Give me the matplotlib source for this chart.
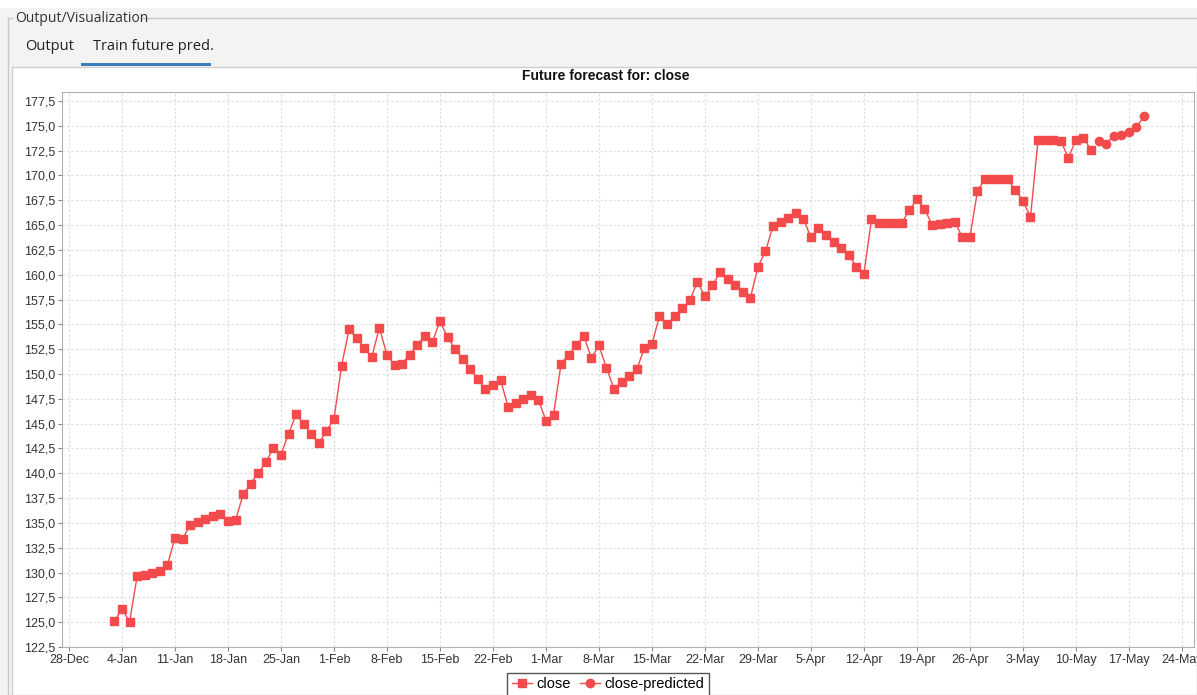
import pandas as pd
import matplotlib
matplotlib.use('Agg')
import matplotlib.pyplot as plt
import matplotlib.dates as mdates
from matplotlib.ticker import FuncFormatter, MultipleLocator
from matplotlib.patches import Rectangle
from matplotlib.lines import Line2D

plt.rcParams['font.family'] = ['Liberation Sans', 'DejaVu Sans']

# daily close values (non-trading days filled between neighbours)
close_jan = [125.07, 126.36, 125.02, 129.62, 129.80, 129.97, 130.15, 130.73, 133.49, 133.41,
             134.76, 135.06, 135.35, 135.65, 135.94, 135.21, 135.27, 137.87, 138.95, 140.03,
             141.11, 142.53, 141.86, 143.96, 145.93, 144.95, 143.98, 143.00, 144.29]
close_feb = [145.43, 150.82, 154.50, 153.58, 152.65, 151.73, 154.65, 151.92, 150.87, 151.01,
             151.96, 152.90, 153.85, 153.20, 155.33, 153.71, 152.55, 151.53, 150.52, 149.50,
             148.48, 148.91, 149.40, 146.71, 147.11, 147.52, 147.92, 147.41]
close_mar = [145.31, 145.91, 151.03, 151.96, 152.90, 153.83, 151.60, 152.87, 150.59, 148.50,
             149.16, 149.81, 150.47, 152.59, 152.99, 155.85, 155.00, 155.80, 156.60, 157.40,
             159.28, 157.83, 158.93, 160.25, 159.59, 158.94, 158.28, 157.65, 160.77, 162.36,
             164.90]
close_apr = [165.32, 165.75, 166.17, 165.63, 163.76, 164.66, 164.00, 163.34, 162.69, 162.03,
             160.80, 160.10, 165.56, 165.21, 165.22, 165.22, 165.23, 166.47, 167.63, 166.65,
             165.02, 165.12, 165.23, 165.33, 163.77, 163.76, 168.41, 169.68, 169.65, 169.62]
close_may = [169.59, 168.54, 167.45, 165.79, 173.57, 173.55, 173.52, 173.50, 171.77, 173.56,
             173.75, 172.57]
close = close_jan + close_feb + close_mar + close_apr + close_may
close_dates = pd.date_range('2023-01-03', periods=len(close), freq='D')

predicted = [173.5, 173.2, 174.0, 174.1, 174.35, 174.85, 175.95]
predicted_dates = pd.date_range('2023-05-13', periods=len(predicted), freq='D')

W, H = 1197, 695
RED = '#f34a4c'


def fx(px):
    return px / W


def fy(py):
    return 1 - py / H


fig = plt.figure(figsize=(W / 100, H / 100), dpi=100, facecolor='#f3f3f3')

# window chrome: top strip, titled border, tab row, white panel (kept behind the axes)
chrome = dict(transform=fig.transFigure, zorder=-10)
fig.add_artist(Rectangle((0, fy(8)), 1, 8 / H, facecolor='white', edgecolor='none', **chrome))
fig.add_artist(Rectangle((fx(12), 0), 1 - fx(12), fy(67), facecolor='white',
                         edgecolor='#cfcfcf', lw=1, **chrome))
fig.add_artist(Line2D([fx(8), fx(12)], [fy(18), fy(18)], color='#c8c8c8', lw=1, **chrome))
fig.add_artist(Line2D([fx(141), 1], [fy(18), fy(18)], color='#c8c8c8', lw=1, **chrome))
fig.add_artist(Line2D([fx(8), fx(8)], [fy(18), 0], color='#c8c8c8', lw=1, **chrome))
fig.add_artist(Rectangle((fx(81), fy(66)), fx(211) - fx(81), 3 / H, facecolor='#3b7cbc',
                         edgecolor='none', **chrome))

fig.text(fx(15), fy(18), 'Output/Visualization', ha='left', va='center',
         fontsize=10, color='#333333', family=['Open Sans', 'DejaVu Sans'])
fig.text(fx(25), fy(47), 'Output', ha='left', va='center',
         fontsize=10.5, color='#222222', family=['Open Sans', 'DejaVu Sans'])
fig.text(fx(93), fy(47), 'Train future pred.', ha='left', va='center',
         fontsize=10.5, color='#222222', family=['Open Sans', 'DejaVu Sans'])

fig.text(fx(606), fy(76), 'Future forecast for: close', ha='center', va='center',
         fontsize=10, fontweight='bold', color='#111111')

ax = fig.add_axes([fx(62), fy(647), fx(1194) - fx(62), fy(92) - fy(647)])
ax.set_facecolor('white')

ax.plot(close_dates, close, color=RED, lw=1, marker='s', ms=5.8,
        mfc=RED, mec=RED, label='close')
ax.plot(predicted_dates, predicted, color=RED, lw=1, marker='o', ms=6,
        mfc=RED, mec=RED, label='close-predicted')

ax.set_ylim(122.5, 178.4)
ax.yaxis.set_major_locator(MultipleLocator(2.5))
ax.yaxis.set_major_formatter(FuncFormatter(lambda v, p: f'{v:.1f}'.replace('.', ',')))

start = mdates.date2num(pd.Timestamp('2022-12-28'))
ax.set_xlim(start - 0.92, start + 148.6)
ax.xaxis.set_major_locator(mdates.WeekdayLocator(byweekday=mdates.WE))
ax.xaxis.set_major_formatter(FuncFormatter(
    lambda v, p: f"{mdates.num2date(v).day}-{mdates.num2date(v).strftime('%b')}"))

ax.grid(True, color='#dcdcdc', linestyle=(0, (2, 2)), lw=0.8)
for s in ax.spines.values():
    s.set_color('#b0b0b0')
    s.set_linewidth(0.8)
ax.tick_params(direction='out', length=3, width=0.8, color='#888888', pad=2,
               labelsize=9, labelcolor='#333333')

ax.legend(loc='upper center', bbox_to_anchor=(fx(608), fy(673)),
          bbox_transform=fig.transFigure, borderaxespad=0, ncol=2, frameon=True,
          fancybox=False, edgecolor='#555555', framealpha=1, fontsize=10.5,
          handlelength=1.4, columnspacing=0.6, handletextpad=0.3, borderpad=0.3)

fig.savefig('out.png', dpi=100, facecolor=fig.get_facecolor())
